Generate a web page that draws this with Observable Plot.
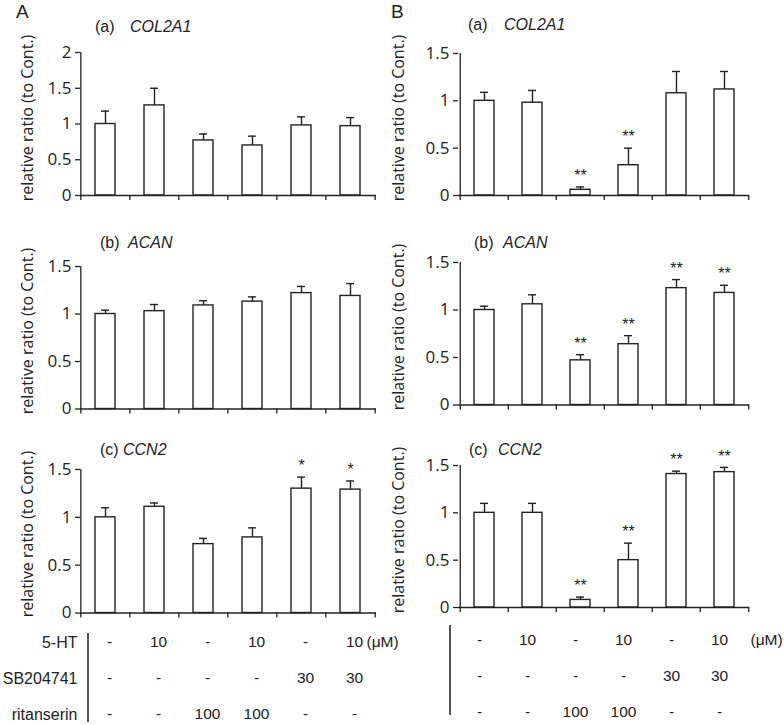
<!DOCTYPE html>
<html><head><meta charset="utf-8">
<script src="https://cdn.jsdelivr.net/npm/d3@7"></script>
<script src="https://cdn.jsdelivr.net/npm/@observablehq/plot@0.6"></script>
<style>
body{margin:0;background:#fff;}
#fig{position:relative;width:784px;height:725px;overflow:hidden;font-family:"Liberation Sans",Arial,sans-serif;color:#222;}
#fig svg{position:absolute;}
.ylab{position:absolute;font-family:"Open Sans";font-size:16px;line-height:16px;white-space:nowrap;transform:translate(-50%,-50%) rotate(-90deg);}
.t{position:absolute;font-size:16px;line-height:16px;white-space:nowrap;}
.letter{position:absolute;font-size:19px;line-height:19px;}
.sep{position:absolute;width:1.5px;background:#555;}
</style></head><body><div id="fig"></div>
<script>
// ---------- data ----------
const groups = ["Cont.", "5-HT", "ritanserin", "5-HT+ritanserin", "SB204741", "5-HT+SB204741"];
const ticks2 = [0, 0.5, 1, 1.5, 2];
const ticks15 = [0, 0.5, 1, 1.5];

// Panel A
const A_COL2A1_mean = [1.00, 1.26, 0.77, 0.70, 0.98, 0.97];
const A_COL2A1_sd   = [0.18, 0.24, 0.09, 0.13, 0.12, 0.12];
const A_COL2A1_sig  = ["", "", "", "", "", ""];
const A_ACAN_mean   = [1.00, 1.03, 1.09, 1.13, 1.22, 1.19];
const A_ACAN_sd     = [0.04, 0.07, 0.05, 0.05, 0.07, 0.13];
const A_ACAN_sig    = ["", "", "", "", "", ""];
const A_CCN2_mean   = [1.00, 1.11, 0.72, 0.79, 1.30, 1.29];
const A_CCN2_sd     = [0.10, 0.04, 0.06, 0.10, 0.12, 0.09];
const A_CCN2_sig    = ["", "", "", "", "*", "*"];

// Panel B
const B_COL2A1_mean = [1.00, 0.98, 0.06, 0.32, 1.08, 1.12];
const B_COL2A1_sd   = [0.09, 0.13, 0.03, 0.18, 0.23, 0.19];
const B_COL2A1_sig  = ["", "", "**", "**", "", ""];
const B_ACAN_mean   = [1.00, 1.06, 0.47, 0.64, 1.23, 1.18];
const B_ACAN_sd     = [0.04, 0.10, 0.06, 0.09, 0.09, 0.08];
const B_ACAN_sig    = ["", "", "**", "**", "**", "**"];
const B_CCN2_mean   = [1.00, 1.00, 0.08, 0.50, 1.41, 1.43];
const B_CCN2_sd     = [0.10, 0.10, 0.03, 0.18, 0.03, 0.05];
const B_CCN2_sig    = ["", "", "**", "**", "**", "**"];

// Treatment table
const tableRows = ["5-HT", "SB204741", "ritanserin"];
const row5HT = ["-", "10", "-", "10", "-", "10"];
const rowSB  = ["-", "-", "-", "-", "30", "30"];
const rowRit = ["-", "-", "100", "100", "-", "-"];
const unitLabel = "(μM)";
const yLabel = "relative ratio (to Cont.)";

// ---------- layout ----------
const fig = document.getElementById("fig");
const INK = "#222";
const PADI = 0.59, PADO = 0.295;

function place(el, left, top) { el.style.left = left + "px"; el.style.top = top + "px"; fig.appendChild(el); }
function div(cls, html, left, top) { const d = document.createElement("div"); d.className = cls; d.innerHTML = html; place(d, left, top); return d; }

function panel(o) {
  const data = groups.map((g, i) => ({g, v: o.mean[i], top: o.mean[i] + o.sd[i], sig: o.sig[i]}));
  const mT = 12, mB = 10;
  const height = (o.y0 - o.ytop) + mT + mB;
  const step = (o.width - o.mL - o.mR) / groups.length;
  const tick = 5 * o.ymax / (o.y0 - o.ytop);   // 5px expressed in data units
  const last = groups[groups.length - 1];
  const svg = Plot.plot({
    width: o.width, height,
    marginLeft: o.mL, marginRight: o.mR, marginTop: mT, marginBottom: mB,
    style: {fontFamily: "Open Sans", fontSize: "17px", color: INK, background: "transparent", overflow: "visible"},
    x: {type: "band", domain: groups, paddingInner: PADI, paddingOuter: PADO, axis: null},
    y: {domain: [0, o.ymax], axis: null},
    marks: [
      Plot.barY(data, {x: "g", y: "v", fill: "white", stroke: INK, strokeWidth: 1.4}),
      Plot.ruleX(data, {x: "g", y1: "v", y2: "top", stroke: INK, strokeWidth: 1.4}),
      Plot.tickY(data, {x: "g", y: "top", stroke: INK, strokeWidth: 1.4, insetLeft: 6, insetRight: 6}),
      Plot.text(data, {x: "g", y: "top", text: "sig", dy: -11, fontSize: 16, fill: INK, fontFamily: "Liberation Sans"}),
      Plot.axisY({ticks: o.ticks, tickSize: 5, tickPadding: 4, tickFormat: d => String(d), stroke: INK, strokeWidth: 1.3, fontSize: 17}),
      // y axis line
      Plot.ruleX([groups[0]], {x: d => d, dx: -step / 2, y1: 0, y2: o.ymax, stroke: INK, strokeWidth: 1.3}),
      // x axis line
      Plot.ruleY([0], {stroke: INK, strokeWidth: 1.3}),
      // x axis boundary ticks
      Plot.ruleX(groups, {x: d => d, dx: -step / 2, y1: 0, y2: -tick, stroke: INK, strokeWidth: 1.3}),
      Plot.ruleX([last], {x: d => d, dx: step / 2, y1: 0, y2: -tick, stroke: INK, strokeWidth: 1.3})
    ]
  });
  place(svg, o.left, o.ytop - mT);
  div("ylab", yLabel, o.labX, (o.ytop + o.y0) / 2 - 6);
  div("t", o.tag, o.tagX, o.titleY - 8);
  div("t", "<i>" + o.gene + "</i>", o.geneX, o.titleY - 8);
}

const L = {left: 0, width: 380, mL: 80, mR: 4, labX: 27};
const R = {left: 392, width: 360, mL: 66, mR: 3, labX: 398};

panel({...L, mean: A_COL2A1_mean, sd: A_COL2A1_sd, sig: A_COL2A1_sig, ymax: 2, ticks: ticks2, ytop: 52, y0: 195, tag: "(a)", gene: "COL2A1", tagX: 95, geneX: 130, titleY: 27});
panel({...L, mean: A_ACAN_mean, sd: A_ACAN_sd, sig: A_ACAN_sig, ymax: 1.5, ticks: ticks15, ytop: 265.5, y0: 408, tag: "(b)", gene: "ACAN", tagX: 100, geneX: 128, titleY: 243});
panel({...L, mean: A_CCN2_mean, sd: A_CCN2_sd, sig: A_CCN2_sig, ymax: 1.5, ticks: ticks15, ytop: 468.5, y0: 612, tag: "(c)", gene: "CCN2", tagX: 100, geneX: 123, titleY: 450});
panel({...R, mean: B_COL2A1_mean, sd: B_COL2A1_sd, sig: B_COL2A1_sig, ymax: 1.5, ticks: ticks15, ytop: 52.5, y0: 194.5, tag: "(a)", gene: "COL2A1", tagX: 468, geneX: 504, titleY: 25});
panel({...R, mean: B_ACAN_mean, sd: B_ACAN_sd, sig: B_ACAN_sig, ymax: 1.5, ticks: ticks15, ytop: 262, y0: 404.5, tag: "(b)", gene: "ACAN", tagX: 474, geneX: 503, titleY: 243});
panel({...R, mean: B_CCN2_mean, sd: B_CCN2_sd, sig: B_CCN2_sig, ymax: 1.5, ticks: ticks15, ytop: 465, y0: 607, tag: "(c)", gene: "CCN2", tagX: 469, geneX: 498, titleY: 450});

function table(o) {
  const rowsVals = [row5HT, rowSB, rowRit];
  const cells = [];
  tableRows.forEach((r, j) => groups.forEach((g, i) => cells.push({g, r, t: rowsVals[j][i]})));
  const svg = Plot.plot({
    width: o.width, height: 105, marginLeft: o.mL, marginRight: o.mR, marginTop: 0, marginBottom: 0,
    style: {fontFamily: "Liberation Sans", fontSize: "16px", color: INK, background: "transparent", overflow: "visible"},
    x: {type: "band", domain: groups, paddingInner: PADI, paddingOuter: PADO, axis: null},
    y: {type: "point", domain: tableRows, range: [22, 94], padding: 0, axis: null},
    marks: [
      Plot.text(cells, {x: "g", y: "r", text: "t", dx: o.dx, fontSize: 15.5, fill: INK}),
      o.labels ? Plot.axisY({tickSize: 0, tickPadding: 3, fontSize: 16, label: null}) : null,
      Plot.text([unitLabel], {x: () => groups[groups.length - 1], y: () => tableRows[0], text: d => d, textAnchor: "start", dx: o.unitDx, fontSize: 15.5, fill: INK})
    ]
  });
  place(svg, o.left, o.top);
}
table({...L, top: 620, dx: 4, unitDx: 16, labels: true});
table({...R, top: 618, dx: -5, unitDx: 26, labels: false});

const s1 = document.createElement("div"); s1.className = "sep"; s1.style.height = "89px"; place(s1, 87, 633);
const s2 = document.createElement("div"); s2.className = "sep"; s2.style.height = "90px"; place(s2, 449, 625);

div("letter", "A", 16, 2);
div("letter", "B", 391, 2);
</script></body></html>
